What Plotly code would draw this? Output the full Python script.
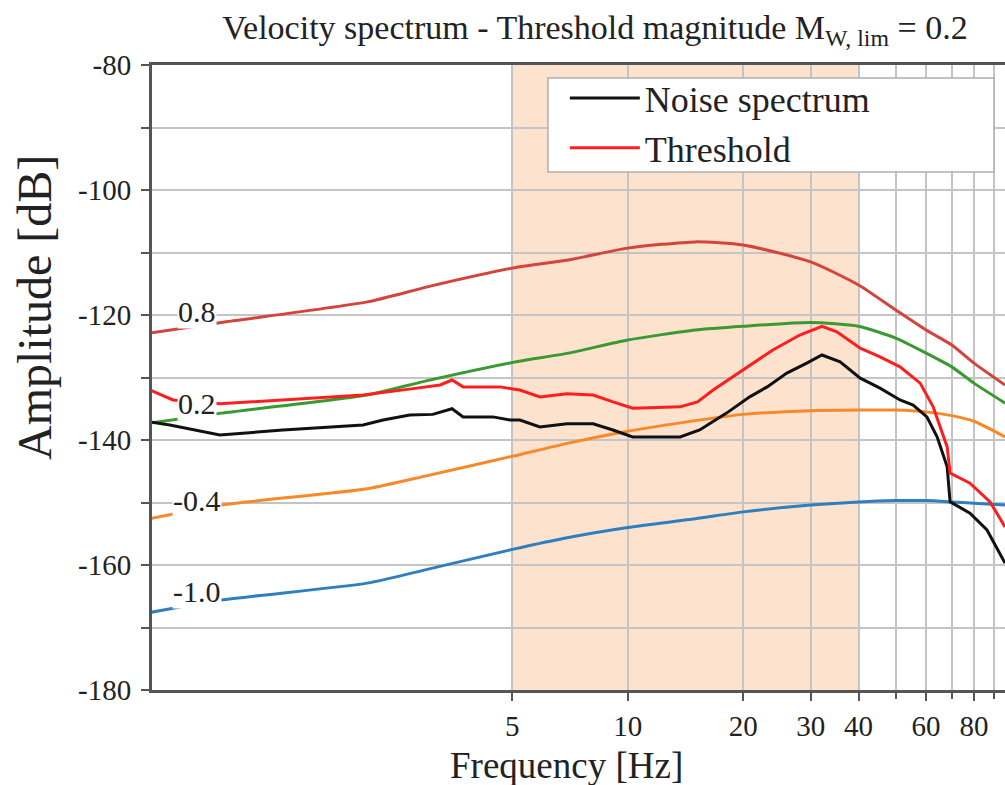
import math
import plotly.graph_objects as go

# ---------------- data ----------------
F_MODEL = [0.567, 0.87, 2.09, 3.0, 5.0, 7.0, 10.0, 15.0, 20.0, 30.0, 40.0,
           50.0, 60.0, 70.0, 80.0, 96.4]
MODEL_M08 = [-122.9, -121.2, -117.9, -115.5, -112.5, -111.2, -109.3, -108.3,
             -108.8, -111.5, -115.2, -119.2, -122.4, -124.8, -127.7, -131.2]
MODEL_M02 = [-137.3, -135.7, -132.8, -130.5, -127.6, -126.1, -124.0, -122.4,
             -121.8, -121.2, -121.8, -123.7, -126.1, -128.3, -130.9, -134.1]
MODEL_MN04 = [-152.6, -150.4, -147.8, -145.7, -142.6, -140.5, -138.6, -136.9,
              -135.9, -135.3, -135.2, -135.2, -135.5, -136.1, -137.0, -139.5]
MODEL_MN10 = [-167.6, -165.6, -162.9, -160.7, -157.5, -155.6, -154.0, -152.6,
              -151.5, -150.4, -149.9, -149.7, -149.7, -149.9, -150.1, -150.4]
MODEL_LABELS = ["0.8", "0.2", "-0.4", "-1.0"]

F_NOISE = [0.567, 0.639, 0.863, 1.26, 2.04, 2.30, 2.70, 3.10, 3.48, 3.72, 4.45,
           4.93, 5.23, 5.90, 6.94, 8.12, 9.15, 10.3, 13.7, 15.4, 18.1, 20.8,
           23.1, 26.0, 29.3, 32.1, 35.8, 40.4, 45.5, 51.3, 55.5, 60.3, 64.1,
           68.1, 69.3, 78.1, 86.5, 96.4]
NOISE_DB = [-137.1, -137.6, -139.2, -138.4, -137.6, -136.8, -136.0, -135.9,
            -135.0, -136.3, -136.3, -136.8, -136.8, -137.9, -137.4, -137.4,
            -138.4, -139.5, -139.5, -138.4, -135.7, -133.1, -131.5, -129.3,
            -127.7, -126.4, -127.5, -130.1, -131.7, -133.6, -134.4, -136.3,
            -139.5, -144.3, -149.9, -151.7, -154.4, -159.7]

F_THRESH = [0.567, 0.651, 0.863, 1.26, 2.04, 2.82, 3.24, 3.48, 3.72, 4.45, 4.64,
            5.23, 5.90, 6.94, 8.12, 9.15, 10.3, 13.7, 15.2, 16.7, 18.8, 21.2,
            23.9, 28.1, 32.1, 35.1, 40.4, 45.5, 51.3, 57.9, 62.6, 68.1, 69.3,
            78.1, 88.1, 96.4]
THRESH_DB = [-132.0, -133.6, -134.2, -133.6, -132.8, -131.7, -131.2, -130.4,
             -131.5, -131.5, -131.5, -132.0, -133.1, -132.6, -132.8, -133.9,
             -134.9, -134.7, -133.9, -132.0, -129.9, -127.7, -125.6, -123.2,
             -121.8, -122.7, -125.3, -126.7, -128.3, -130.9, -134.7, -141.1,
             -145.3, -146.9, -149.9, -153.9]

BAND = [5, 40]
X_TICKS = [5, 10, 20, 30, 40, 60, 80]
X_TICKTEXT = ["5", "10", "20", "30", "40", "60", "80"]
X_MINOR = [50, 70, 90]
Y_TICKS = [-180, -160, -140, -120, -100, -80]
Y_TICKTEXT = ["-180", "-160", "-140", "-120", "-100", "-80"]

# ---------------- styling ----------------
SERIF = "Liberation Serif, Times New Roman, serif"
TXT = "#222222"
MODEL_COLORS = ["#d2443c", "#3a9a32", "#f7892a", "#2f7fbf"]
LABEL_POS = [(0.752, -119.4), (0.752, -134.2), (0.752, -149.6), (0.752, -164.2)]

fig = go.Figure()

for vals, col in zip([MODEL_M08, MODEL_M02, MODEL_MN04, MODEL_MN10], MODEL_COLORS):
    fig.add_trace(go.Scatter(x=F_MODEL, y=vals, mode="lines", showlegend=False,
                             line=dict(color=col, width=3, shape="spline", smoothing=0.6),
                             hoverinfo="skip"))

fig.add_trace(go.Scatter(x=F_NOISE, y=NOISE_DB, mode="lines", name="Noise spectrum",
                         line=dict(color="#111111", width=3)))
fig.add_trace(go.Scatter(x=F_THRESH, y=THRESH_DB, mode="lines", name="Threshold",
                         line=dict(color="#ff1e1e", width=3)))

# shaded frequency band
fig.add_shape(type="rect", xref="x", yref="paper", x0=BAND[0], x1=BAND[1], y0=0, y1=1,
              fillcolor="rgba(248,150,80,0.28)", line_width=0, layer="between")

# legend box
fig.add_shape(type="rect", xref="paper", yref="paper", x0=0.4642, x1=0.9871,
              y0=0.8288, y1=0.9792, fillcolor="white",
              line=dict(color="#b0b0b0", width=1.5), layer="above")

# in-plot magnitude labels (annotation x on a log axis is given in log10 units)
for txt, (fx, fy) in zip(MODEL_LABELS, LABEL_POS):
    fig.add_annotation(x=math.log10(fx), y=fy, text=txt, showarrow=False,
                       xref="x", yref="y", xanchor="center", yanchor="middle",
                       font=dict(family=SERIF, size=30, color=TXT),
                       bgcolor="white", borderpad=0)

# axis titles as annotations (positioned like the reference)
fig.add_annotation(text="Amplitude [dB]", xref="paper", yref="paper",
                   x=-0.1383, y=0.6112, textangle=-90, showarrow=False,
                   xanchor="center", yanchor="middle",
                   font=dict(family=SERIF, size=48, color=TXT))
fig.add_annotation(text="Frequency [Hz]", xref="paper", yref="paper",
                   x=0.4865, y=-0.12, showarrow=False,
                   xanchor="center", yanchor="middle",
                   font=dict(family=SERIF, size=37, color=TXT))

fig.update_layout(
    width=1005, height=785,
    margin=dict(l=152, r=0, t=65, b=95),
    paper_bgcolor="white", plot_bgcolor="white",
    title=dict(text="Velocity spectrum - Threshold magnitude M<sub>W, lim</sub> = 0.2",
               xref="container", yref="container", x=0.592, y=0.966,
               xanchor="center", yanchor="middle",
               font=dict(family=SERIF, size=34, color=TXT)),
    legend=dict(x=0.484, y=0.995, xanchor="left", yanchor="top",
                bgcolor="rgba(0,0,0,0)", borderwidth=0, itemwidth=70,
                font=dict(family=SERIF, size=36, color=TXT)),
    showlegend=True,
)

fig.update_xaxes(type="log", range=[-0.241, 1.984],
                 tickvals=X_TICKS, ticktext=X_TICKTEXT,
                 showgrid=True, gridcolor="#c4c4c4", gridwidth=2,
                 minor=dict(tickvals=X_MINOR, showgrid=True, gridcolor="#c4c4c4",
                            gridwidth=2, ticks="outside", ticklen=6, tickwidth=2,
                            tickcolor="#555555"),
                 showline=True, linecolor="#555555", linewidth=3, mirror=True,
                 ticks="outside", ticklen=8, tickwidth=2, tickcolor="#555555",
                 tickfont=dict(family=SERIF, size=29, color=TXT),
                 zeroline=False)
fig.update_yaxes(range=[-180, -80], tickvals=Y_TICKS, ticktext=Y_TICKTEXT,
                 showgrid=True, gridcolor="#c4c4c4", gridwidth=2,
                 minor=dict(dtick=10, showgrid=True, gridcolor="#c4c4c4", gridwidth=2,
                            ticks="outside", ticklen=8, tickwidth=2, tickcolor="#555555"),
                 showline=True, linecolor="#555555", linewidth=3,
                 ticks="outside", ticklen=8, tickwidth=2, tickcolor="#555555",
                 ticklabelstandoff=4,
                 tickfont=dict(family=SERIF, size=29, color=TXT),
                 zeroline=False)

fig.write_html("out.html")
